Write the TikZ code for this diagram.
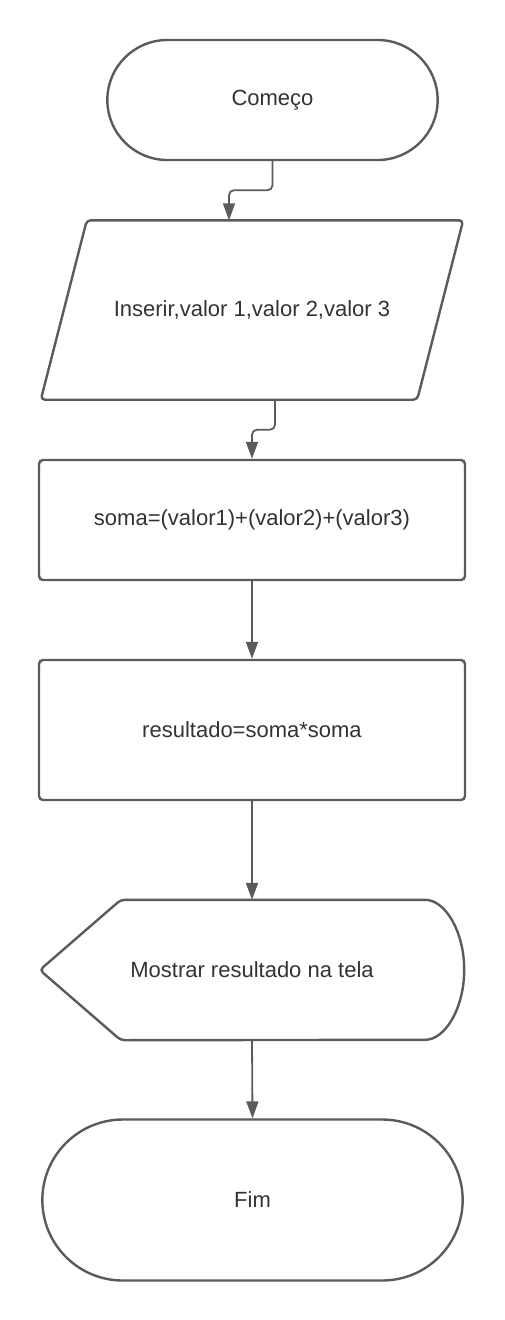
\documentclass[tikz,border=0pt]{standalone}
\usepackage{fontspec}
\setmainfont{Liberation Sans}
\usepackage{tikz}
\usetikzlibrary{arrows.meta,shapes.misc}
\definecolor{edge}{HTML}{5B5B5B}
\definecolor{ink}{HTML}{333333}
\tikzset{
  base/.style={draw=edge, line width=2.4pt, fill=white, text=ink, font=\fontsize{22}{26}\selectfont},
  term/.style={base, rounded rectangle},
  proc/.style={base, rectangle, rounded corners=4pt},
  label/.style={text=ink, font=\fontsize{22}{26}\selectfont},
  outline/.style={draw=edge, line width=2.4pt, line join=round, rounded corners=4pt},
  flow/.style={draw=edge, line width=1.8pt, rounded corners=5pt, -{Triangle[length=17pt,width=12pt]}}
}
\begin{document}
\begin{tikzpicture}[x=1pt, y=1pt]
  \useasboundingbox[fill=white] (0,0) rectangle (505,-1320);

  \node[term, minimum width=337pt, minimum height=120pt] (start) at (272.5,-100) {Começo};

  % input: parallelogram leaning right
  \node[label, minimum width=422pt, minimum height=179pt] (in) at (252,-310) {Inserir,valor 1,valor 2,valor 3};
  \draw[outline] ([xshift=46pt]in.north west) -- (in.north east)
    -- ([xshift=-46pt]in.south east) -- (in.south west) -- cycle;

  \node[proc, minimum width=426pt, minimum height=120pt] (soma) at (252,-520) {soma=(valor1)+(valor2)+(valor3)};
  \node[proc, minimum width=426pt, minimum height=140pt] (res) at (252,-730) {resultado=soma*soma};

  % display shape: pointed left side, round right side
  \node[label, minimum width=424pt, minimum height=140pt] (show) at (252,-970) {Mostrar resultado na tela};
  \draw[outline] (show.west) -- ([xshift=81pt]show.north west) -- ([xshift=-43pt]show.north east)
    arc[start angle=90, end angle=-90, x radius=43pt, y radius=70pt]
    -- ([xshift=81pt]show.south west) -- cycle;

  \node[term, minimum width=427pt, minimum height=161pt] (fim) at (252.5,-1200) {Fim};

  \draw[flow] (start.south) -- ++(0,-29) -| ([xshift=-23pt]in.north);
  \draw[flow] ([xshift=23pt]in.south) -- ++(0,-30) -| (soma.north);
  \draw[flow] (soma.south) -- (res.north);
  \draw[flow] (res.south) -- (show.north);
  \draw[flow] (show.south) -- (fim.north);
\end{tikzpicture}
\end{document}
